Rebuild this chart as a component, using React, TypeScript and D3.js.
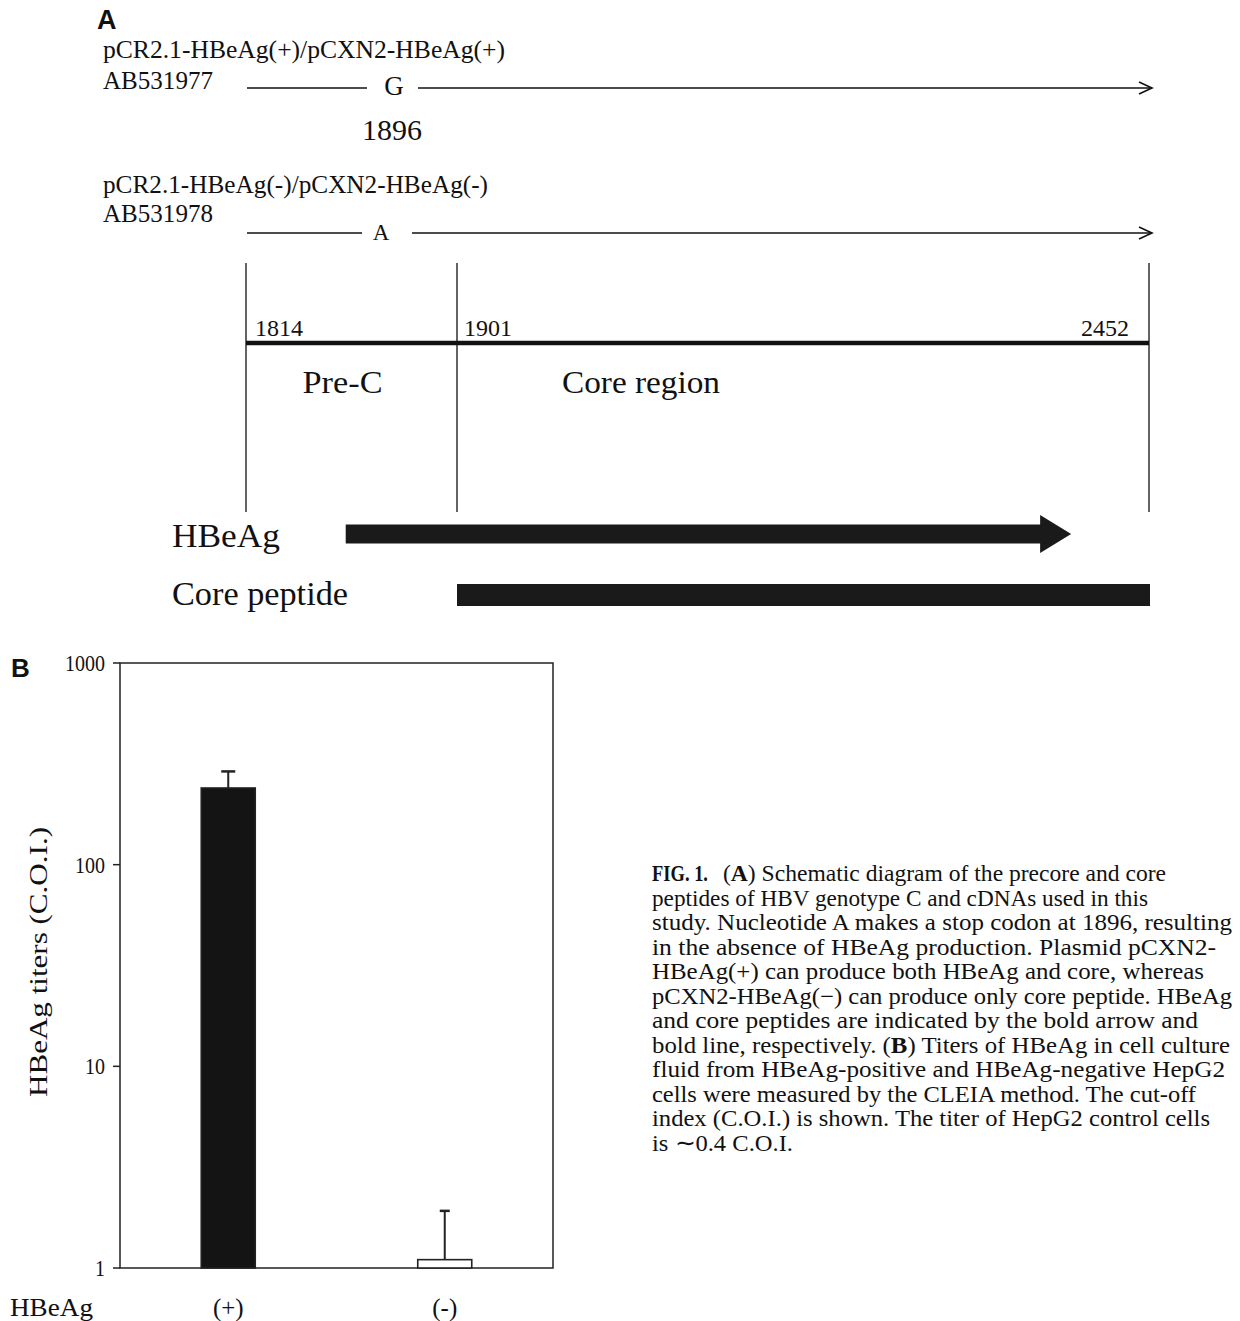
import React from 'react';
import * as d3 from 'd3';

// ---------- Panel A data ----------
const constructs = ['pCR2.1-HBeAg(+)/pCXN2-HBeAg(+)', 'pCR2.1-HBeAg(-)/pCXN2-HBeAg(-)'];
const accessions = ['AB531977', 'AB531978'];
const nucleotides = ['G', 'A'];
const mutationPos = 1896;
const regionBounds = [1814, 1901, 2452];
const regionNames = ['Pre-C', 'Core region'];
const peptideNames = ['HBeAg', 'Core peptide'];
const peptideSpans: [number, number][] = [[1870, 2390], [1901, 2452]];

// ---------- Panel B data ----------
const groups = ['(+)', '(-)'];
const titers = [240, 1.1];
const titerUpper = [290, 1.92];
const yTicks = [1, 10, 100, 1000];

// ---------- Caption ----------
const captionLines = [
  'peptides of HBV genotype C and cDNAs used in this',
  'study. Nucleotide A makes a stop codon at 1896, resulting',
  'in the absence of HBeAg production. Plasmid pCXN2-',
  'HBeAg(+) can produce both HBeAg and core, whereas',
  'pCXN2-HBeAg(\u2212) can produce only core peptide. HBeAg',
  'and core peptides are indicated by the bold arrow and',
  'bold line, respectively. (B) Titers of HBeAg in cell culture',
  'fluid from HBeAg-positive and HBeAg-negative HepG2',
  'cells were measured by the CLEIA method. The cut-off',
  'index (C.O.I.) is shown. The titer of HepG2 control cells',
  'is \u223C0.4 C.O.I.',
];
const captionEnds = [1148, 1232, 1216, 1204, 1232, 1198, 1230, 1225, 1196, 1210, 793];

const SERIF = '"Liberation Serif", "Times New Roman", serif';
const SANS = '"Liberation Sans", Arial, sans-serif';

export default function App() {
  // schematic position scale (not to scale, piecewise)
  const sx = d3.scaleLinear().domain([1814, 1896, 1901, 2452]).range([246, 392, 457, 1149]);

  const constructRows = [
    { nameY: 58, accY: 89, lineY: 88, nucY: 95, nucSize: 27, gap: [367, 418], nucX: 394 },
    { nameY: 193, accY: 222, lineY: 233, nucY: 240, nucSize: 23, gap: [362, 412], nucX: 381 },
  ];
  const nameLens = [402, 385];

  // bar chart scales
  const y = d3.scaleLog().domain([1, 1000]).range([1268, 663]);
  const x = d3.scalePoint().domain(groups).range([120, 553]).padding(0.5);
  const plotLeft = 120, plotRight = 553;
  const barW = 54;

  const arrowEnd = sx(2452) + 3;

  return (
    <svg width={1240} height={1321} style={{ position: 'absolute', left: 0, top: 0, background: '#fff' }}
      fontFamily={SERIF}>
      <rect x={0} y={0} width={1240} height={1321} fill="#fff" />
      {/* Panel A */}
      <text x={97} y={29} fontFamily={SANS} fontWeight="bold" fontSize={27} fill="#111">A</text>
      {constructs.map((c, i) => {
        const r = constructRows[i];
        return (
          <g key={c}>
            <text x={103} y={r.nameY} fontSize={26} textLength={nameLens[i]} lengthAdjust="spacingAndGlyphs" fill="#111">{c}</text>
            <text x={103} y={r.accY} fontSize={26} textLength={110} lengthAdjust="spacingAndGlyphs" fill="#111">{accessions[i]}</text>
            <line x1={sx(1814) + 1} x2={r.gap[0]} y1={r.lineY} y2={r.lineY} stroke="#111" strokeWidth={1.6} />
            <text x={r.nucX} y={r.nucY} fontSize={r.nucSize} textAnchor="middle" fill="#111">{nucleotides[i]}</text>
            <line x1={r.gap[1]} x2={arrowEnd} y1={r.lineY} y2={r.lineY} stroke="#111" strokeWidth={1.6} />
            <path d={`M${arrowEnd - 13},${r.lineY - 6} L${arrowEnd},${r.lineY} L${arrowEnd - 13},${r.lineY + 6}`} fill="none" stroke="#111" strokeWidth={1.6} />
          </g>
        );
      })}
      <text x={sx(mutationPos)} y={140} fontSize={29} textAnchor="middle" textLength={60} lengthAdjust="spacingAndGlyphs" fill="#111">{mutationPos}</text>

      {regionBounds.map((b) => (
        <line key={b} x1={sx(b)} x2={sx(b)} y1={263} y2={512} stroke="#222" strokeWidth={1.4} />
      ))}
      <line x1={sx(1814)} x2={sx(2452)} y1={343} y2={343} stroke="#111" strokeWidth={4.5} />
      <text x={sx(1814) + 9} y={336} fontSize={24} fill="#111">{regionBounds[0]}</text>
      <text x={sx(1901) + 7} y={336} fontSize={24} fill="#111">{regionBounds[1]}</text>
      <text x={sx(2452) - 20} y={336} fontSize={24} textAnchor="end" fill="#111">{regionBounds[2]}</text>
      <text x={(sx(1814) + sx(1901)) / 2 - 9} y={393} fontSize={32} textAnchor="middle" textLength={80} lengthAdjust="spacingAndGlyphs" fill="#111">{regionNames[0]}</text>
      <text x={562} y={393} fontSize={32} textLength={158} lengthAdjust="spacingAndGlyphs" fill="#111">{regionNames[1]}</text>

      <text x={172} y={547} fontSize={33} textLength={108} lengthAdjust="spacingAndGlyphs" fill="#111">{peptideNames[0]}</text>
      <text x={172} y={605} fontSize={33} textLength={176} lengthAdjust="spacingAndGlyphs" fill="#111">{peptideNames[1]}</text>
      {(() => {
        const x0 = sx(peptideSpans[0][0]);
        const tip = sx(peptideSpans[0][1]);
        const base = tip - 31;
        const cy = 534, hh = 9.5, ah = 19;
        return (
          <path d={`M${x0},${cy - hh} L${base},${cy - hh} L${base},${cy - ah} L${tip},${cy} L${base},${cy + ah} L${base},${cy + hh} L${x0},${cy + hh} Z`} fill="#1a1a1a" />
        );
      })()}
      <rect x={sx(peptideSpans[1][0])} y={584} width={sx(peptideSpans[1][1]) - sx(peptideSpans[1][0]) + 1} height={22} fill="#1a1a1a" />

      {/* Panel B */}
      <text x={11} y={677} fontFamily={SANS} fontWeight="bold" fontSize={26} fill="#111">B</text>
      <rect x={plotLeft} y={y(1000)} width={plotRight - plotLeft} height={y(1) - y(1000)} fill="none" stroke="#222" strokeWidth={1.5} />
      {yTicks.map((t) => (
        <g key={t}>
          <line x1={plotLeft - 7} x2={plotLeft} y1={y(t)} y2={y(t)} stroke="#222" strokeWidth={1.5} />
          <text x={105} y={y(t) + 8} fontSize={23} textAnchor="end" textLength={String(t).length * 10} lengthAdjust="spacingAndGlyphs" fill="#111">{t}</text>
        </g>
      ))}
      <text transform={`translate(47,962) rotate(-90)`} fontSize={25} textAnchor="middle" textLength={270} lengthAdjust="spacingAndGlyphs" fill="#111">HBeAg titers (C.O.I.)</text>

      {groups.map((g, i) => {
        const cx = x(g) as number;
        const top = y(titers[i]);
        const capW = i === 0 ? 14 : 10;
        return (
          <g key={g}>
            <line x1={cx} x2={cx} y1={top} y2={y(titerUpper[i])} stroke="#222" strokeWidth={2} />
            <line x1={cx - capW / 2} x2={cx + capW / 2} y1={y(titerUpper[i])} y2={y(titerUpper[i])} stroke="#222" strokeWidth={2.5} />
            <rect x={cx - barW / 2} y={top} width={barW} height={y(1) - top}
              fill={i === 0 ? '#141414' : '#fff'} stroke="#222" strokeWidth={1.6} />
            <text x={cx} y={1316} fontSize={25} textAnchor="middle" fill="#111">{g}</text>
          </g>
        );
      })}
      <text x={10} y={1316} fontSize={26} textLength={83} lengthAdjust="spacingAndGlyphs" fill="#111">HBeAg</text>

      {/* Caption */}
      <text x={652} y={881} fontSize={23.5} fontWeight="bold" textLength={56} lengthAdjust="spacingAndGlyphs" fill="#111">FIG. 1.</text>
      <text x={723} y={881} fontSize={23.5} textLength={443} lengthAdjust="spacingAndGlyphs" fill="#111">
        (<tspan fontWeight="bold">A</tspan>) Schematic diagram of the precore and core
      </text>
      {captionLines.map((l, i) => {
        const yy = 881 + (i + 1) * 24.5;
        const len = captionEnds[i] - 652;
        if (l.includes('(B)')) {
          const [a, b] = l.split('(B)');
          return (
            <text key={i} x={652} y={yy} fontSize={23.5} textLength={len} lengthAdjust="spacingAndGlyphs" fill="#111">
              {a}(<tspan fontWeight="bold">B</tspan>){b}
            </text>
          );
        }
        return (
          <text key={i} x={652} y={yy} fontSize={23.5} textLength={len} lengthAdjust="spacingAndGlyphs" fill="#111">{l}</text>
        );
      })}
    </svg>
  );
}
